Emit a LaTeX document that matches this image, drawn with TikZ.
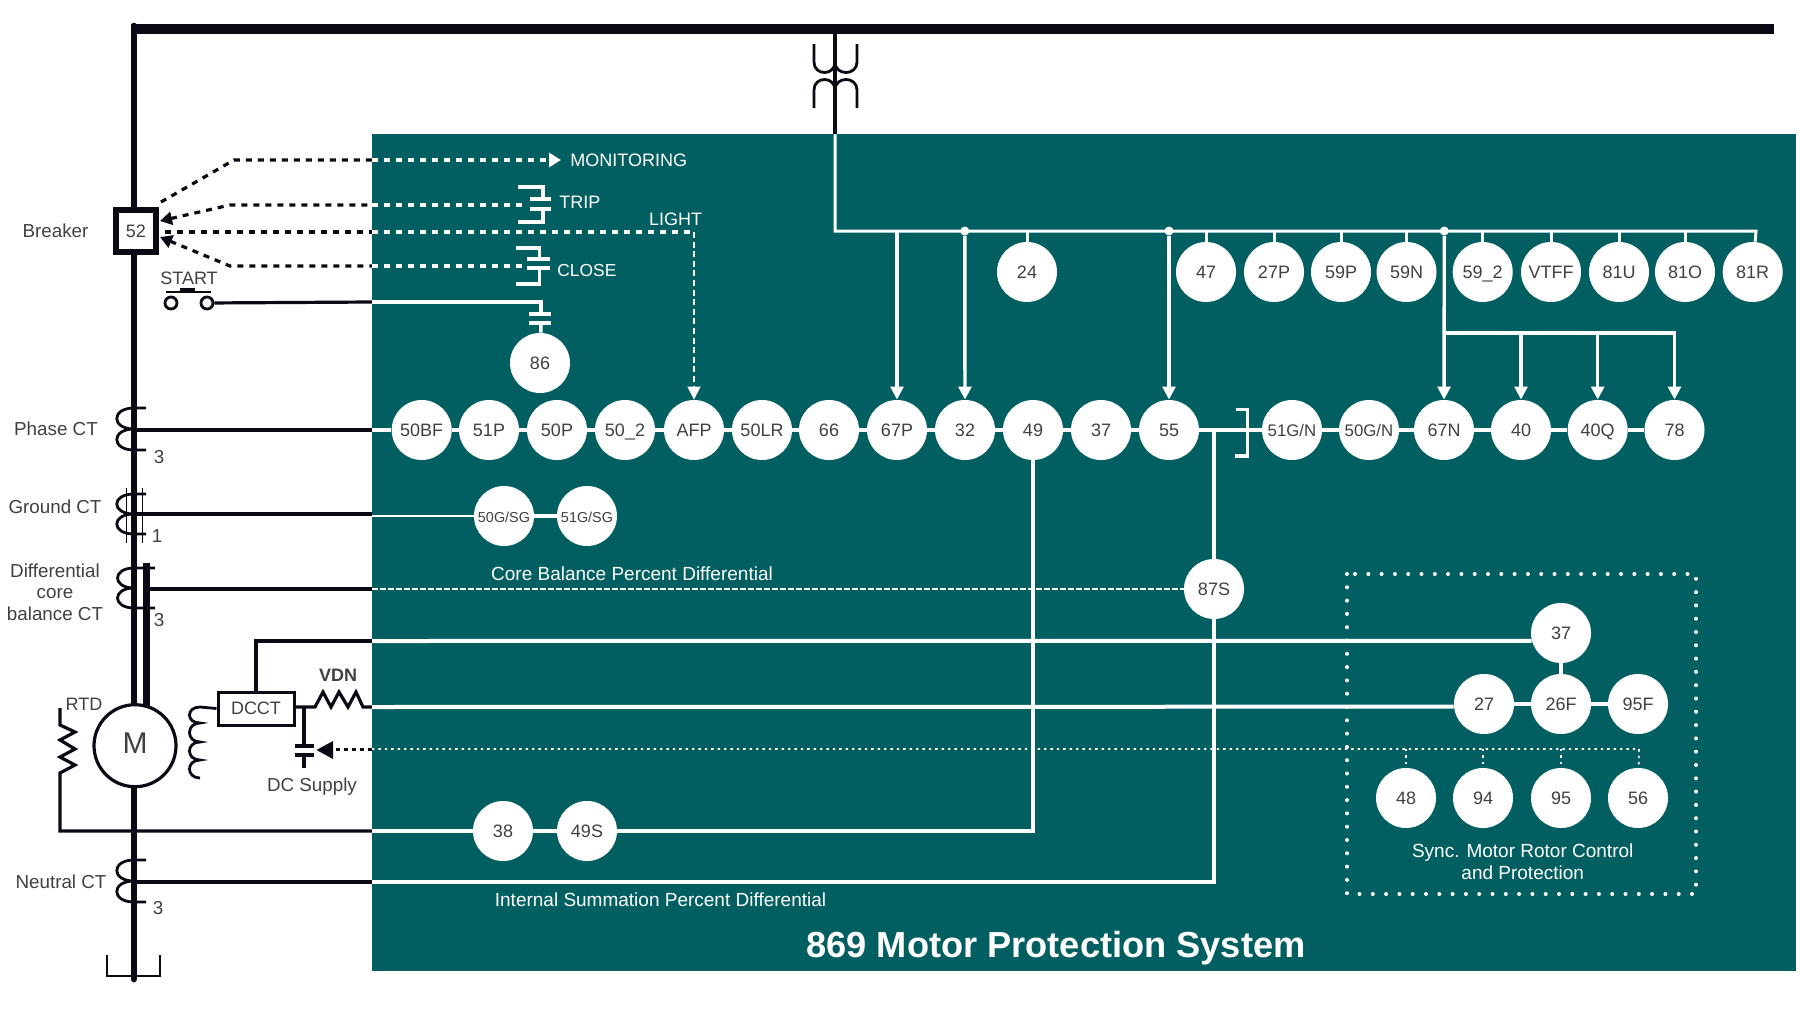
\documentclass[tikz,border=0pt]{standalone}
\usepackage{fontspec}
\setmainfont{Liberation Sans}
\usetikzlibrary{calc,arrows.meta}
\definecolor{panel}{HTML}{025F61}
\definecolor{ink}{HTML}{0A0A14}
\definecolor{words}{HTML}{404040}
\tikzset{
  relay/.style = {circle, fill = white, inner sep = 0pt, minimum size = 30pt, text = words, text height = 6.5pt, text depth = 0pt, font = \fontsize{9}{11}\selectfont},
  tinyrelay/.style = {relay, font = \fontsize{7.2}{9}\selectfont},
  midrelay/.style = {relay, font = \fontsize{8.4}{10}\selectfont},
  capstext/.style = {text = words, inner sep = 0pt, font = \fontsize{9}{11}\selectfont},
  darktext/.style = {text = words, inner sep = 0pt, font = \fontsize{9.4}{10.7}\selectfont, align = center},
  lighttext/.style = {text = white, inner sep = 0pt, font = \fontsize{9}{11}\selectfont},
  linetext/.style = {text = white, inner sep = 0pt, font = \fontsize{9.5}{10.9}\selectfont, align = center},
  blackwire/.style = {draw = ink, line width = 1.6pt},
  whitewire/.style = {draw = white, line width = 1.8pt},
  thinwire/.style = {draw = white, line width = 1.5pt},
  whitearrow/.style = {thinwire, line width = 1.7pt, -{Triangle[length = 6.5pt, width = 6.4pt]}},
  coil/.style = {draw = ink, line width = 1.4pt},
  blackdash/.style = {draw = ink, line width = 1.6pt, dash pattern = on 3pt off 3pt},
  whitedash/.style = {draw = white, line width = 1.6pt, dash pattern = on 3pt off 3pt},
  dotline/.style = {draw = white, line width = 0.8pt, dash pattern = on 1.2pt off 2pt},
  junction/.style = {circle, fill = white, inner sep = 0pt, minimum size = 4.5pt},
  contact/.style = {circle, draw = ink, fill = white, line width = 1.4pt, inner sep = 0pt, minimum size = 6pt},
  symbol/.style = {draw = white, line width = 1.7pt}
}
\begin{document}
\begin{tikzpicture}[x = 0.5pt, y = -0.5pt]
\useasboundingbox (0, 0) rectangle (1800, 1028);
%\draw[very thin, color = gray](0, 0) grid (1800, 1028);
\fill [panel] (372, 134) rectangle (1796, 971);
% busbar, motor and breaker
\draw [ink, line width = 4.6pt] (131, 29) -- (1774, 29);
\draw [ink, line width = 3.4pt, line cap = round] (134, 26) -- (134, 979);
\draw [ink, line width = 3.5pt] (146, 563) -- (146, 710);
\draw [coil] (107, 955) -- (107, 976) -- (160, 976) -- (160, 955);
\node (breaker) at (136, 231) [draw = ink, fill = white, line width = 2.8pt, minimum width = 20.2pt, minimum height = 21.2pt, inner sep = 0pt, text = words, font = \fontsize{9}{11}\selectfont] {52};
\node (motor) at (135, 745.7) [circle, draw = ink, fill = white, line width = 1.6pt, minimum size = 41pt, inner sep = 0pt, text = words, text depth = 3pt, font = \fontsize{15}{18}\selectfont] {M};
% voltage transformer
\coordinate (vttop) at (835, 29);
\coordinate (vtedge) at (835, 134);
\coordinate (busstart) at (835, 231);
\coordinate (busend) at (1756, 231);
\draw [blackwire] (vttop) -- (vtedge);
\draw [coil] (814, 44) -- (814, 62) .. controls (814, 76) and (835, 76) .. (835, 62) .. controls (835, 76) and (857, 76) .. (857, 62) -- (857, 44);
\draw [coil] (814, 108) -- (814, 90) .. controls (814, 76) and (835, 76) .. (835, 90) .. controls (835, 76) and (857, 76) .. (857, 90) -- (857, 108);
% upper row
\node (r24) at (1027, 272) [relay] {24};
\node (r47) at (1206, 272) [relay] {47};
\node (r27p) at (1274, 272) [relay] {27P};
\node (r59p) at (1341, 272) [relay] {59P};
\node (r59n) at (1406.5, 272) [relay] {59N};
\node (r59b) at (1482.7, 272) [relay] {59\_2};
\node (rvtff) at (1551, 272) [relay] {VTFF};
\node (r81u) at (1619, 272) [relay] {81U};
\node (r81o) at (1685, 272) [relay] {81O};
\node (r81r) at (1752.7, 272) [relay] {81R};
% main row
\node (r50bf) at (421.7, 430) [relay] {50BF};
\node (r51p) at (489, 430) [relay] {51P};
\node (r50p) at (557, 430) [relay] {50P};
\node (r50b) at (625, 430) [relay] {50\_2};
\node (rafp) at (694, 430) [relay] {AFP};
\node (r50lr) at (762, 430) [relay] {50LR};
\node (r66) at (829, 430) [relay] {66};
\node (r67p) at (897, 430) [relay] {67P};
\node (r32) at (965, 430) [relay] {32};
\node (r49) at (1033, 430) [relay] {49};
\node (r37) at (1101, 430) [relay] {37};
\node (r55) at (1169, 430) [relay] {55};
\node (r51gn) at (1292, 430) [midrelay] {51G/N};
\node (r50gn) at (1369, 430) [midrelay] {50G/N};
\node (r67n) at (1444, 430) [relay] {67N};
\node (r40) at (1521, 430) [relay] {40};
\node (r40q) at (1597.7, 430) [relay] {40Q};
\node (r78) at (1674.5, 430) [relay] {78};
% other relays
\node (r86) at (540, 363) [relay] {86};
\node (r50sg) at (504, 516) [tinyrelay] {50G/SG};
\node (r51sg) at (587, 516) [tinyrelay] {51G/SG};
\node (r87s) at (1214, 589) [relay] {87S};
\node (r38) at (503, 831) [relay] {38};
\node (r49s) at (587, 831) [relay] {49S};
\node (s37) at (1561, 633) [relay] {37};
\node (s27) at (1484, 704) [relay] {27};
\node (s26f) at (1561, 704) [relay] {26F};
\node (s95f) at (1638, 704) [relay] {95F};
\node (s48) at (1406, 798) [relay] {48};
\node (s94) at (1483, 798) [relay] {94};
\node (s95) at (1561, 798) [relay] {95};
\node (s56) at (1638, 798) [relay] {56};
% potential bus
\draw [thinwire] (vtedge) -- (busstart) -- (busend) -- (r81r);
\node (dota) at (964.8, 231) [junction] {};
\node (dotb) at (1169, 231) [junction] {};
\node (dotc) at (1444.3, 231) [junction] {};
\coordinate (branch) at (1444.3, 333);
\draw [thinwire] (busstart -| r24) -- (r24);
\draw [thinwire] (busstart -| r47) -- (r47);
\draw [thinwire] (busstart -| r27p) -- (r27p);
\draw [thinwire] (busstart -| r59p) -- (r59p);
\draw [thinwire] (busstart -| r59n) -- (r59n);
\draw [thinwire] (busstart -| r59b) -- (r59b);
\draw [thinwire] (busstart -| rvtff) -- (rvtff);
\draw [thinwire] (busstart -| r81u) -- (r81u);
\draw [thinwire] (busstart -| r81o) -- (r81o);
\draw [whitearrow] (busstart -| r67p) -- (r67p);
\draw [whitearrow] (dota) -- (r32);
\draw [whitearrow] (dotb) -- (r55);
\draw [whitearrow] (dotc) -- (r67n);
\draw [whitearrow] (branch) -| (r78);
\draw [whitearrow] (branch -| r40) -- (r40);
\draw [whitearrow] (branch -| r40q) -- (r40q);
% main row wiring
\coordinate (phasect) at (137, 430);
\coordinate (phaseedge) at (372, 430);
\draw [blackwire] (phasect) -- (phaseedge);
\draw [whitewire] (phaseedge) -- (r50bf) -- (r51p) -- (r50p) -- (r50b) -- (rafp) -- (r50lr) -- (r66) -- (r67p) -- (r32) -- (r49) -- (r37) -- (r55) -- (r51gn) -- (r50gn) -- (r67n) -- (r40) -- (r40q) -- (r78);
\draw [symbol] (1236, 409.5) -- (1247.5, 409.5) -- (1247.5, 456) -- (1235, 456);
% ground CT
\coordinate (groundct) at (137, 514);
\coordinate (groundedge) at (372, 514);
\coordinate (groundwhite) at (372, 516);
\draw [blackwire] (groundct) -- (groundedge);
\draw [white, line width = 0.8pt] (groundwhite) -- (r50sg);
\draw [whitewire] (r50sg) -- (r51sg);
% core balance
\coordinate (corect) at (146, 589);
\coordinate (coreedge) at (372, 589);
\draw [blackwire] (corect) -- (coreedge);
\draw [white, line width = 1pt, dash pattern = on 3pt off 1pt] (coreedge) -- (r87s);
% neutral and summation
\coordinate (neutralct) at (137, 882);
\coordinate (neutraledge) at (372, 882);
\coordinate (sumtap) at (1214, 430);
\draw [blackwire] (neutralct) -- (neutraledge);
\draw [whitewire] (neutraledge) -| (r87s);
\draw [whitewire] (r87s) -- (sumtap);
% RTD
\coordinate (rtdtop) at (60, 708);
\coordinate (rtdedge) at (372, 831);
\draw [blackwire] (rtdtop) -- (60, 725) -- (75, 732) -- (60, 740) -- (75, 749) -- (60, 757) -- (75, 765) -- (60, 773) -- (60, 831) -- (rtdedge);
\draw [whitewire] (rtdedge) -- (r38) -- (r49s);
\draw [whitewire] (r49) |- (r49s);
% DCCT
\node (dcct) at (256, 708.5) [draw = ink, fill = white, line width = 1.5pt, minimum width = 38pt, minimum height = 16.5pt, inner sep = 0pt, text = words, font = \fontsize{9}{11}\selectfont] {DCCT};
\coordinate (dcctedge) at (372, 641);
\coordinate (vdnedge) at (372, 707);
\coordinate (captop) at (304, 707);
\coordinate (capbot) at (304, 768);
\draw [blackwire] (dcct.north) |- (dcctedge);
\draw [blackwire] (dcct.east |- vdnedge) -- (315, 707) -- (323, 692) -- (331, 707) -- (339, 692) -- (348, 707) -- (356, 692) -- (363, 707) -- (vdnedge);
\draw [white, line width = 2pt] (dcctedge) -- (s37.195);
\draw [white, line width = 2pt] (vdnedge) -- (s27.185);
\draw [whitewire] (s27) -- (s26f) -- (s95f);
\draw [whitewire] (s37) -- (s26f);
\draw [coil] (dcct.west) -- (200, 707) .. controls (186, 707) and (186, 723) .. (200, 723) .. controls (186, 723) and (186, 742) .. (200, 742) .. controls (186, 742) and (186, 760) .. (200, 760) .. controls (186, 760) and (186, 778) .. (200, 778);
\draw [blackwire] (captop) -- (304, 746);
\draw [blackwire] (304, 755) -- (capbot);
\draw [ink, line width = 2pt] (295, 746) -- (314, 746);
\draw [ink, line width = 2pt] (295, 755) -- (314, 755);
% sync. motor dotted lines
\coordinate (dotedge) at (372, 749);
\coordinate (dotend) at (1639, 749);
\coordinate (dcarrow) at (316.5, 750);
\draw [ink, line width = 1.5pt, dash pattern = on 2pt off 2pt] (dotedge) -- (333, 749);
\fill [ink] (dcarrow) -- (333, 741) -- (333, 759) -- cycle;
\draw [dotline] (dotedge) -- (dotend) -- (s56);
\draw [dotline] (dotedge -| s48) -- (s48);
\draw [dotline] (dotedge -| s94) -- (s94);
\draw [dotline] (dotedge -| s95) -- (s95);
\draw [white, line width = 2pt, dash pattern = on 0pt off 6.65pt, line cap = round] (1347, 574) rectangle (1696, 894);
% breaker signals
\coordinate (monstart) at (161, 202);
\coordinate (monbend) at (234, 160);
\coordinate (monedge) at (372, 160);
\coordinate (monend) at (561, 160);
\coordinate (trippoint) at (160, 221);
\coordinate (tripbend) at (230, 205);
\coordinate (tripedge) at (372, 205);
\coordinate (tripend) at (523, 205);
\coordinate (lightstart) at (165, 232);
\coordinate (lightedge) at (372, 232);
\coordinate (lightcorner) at (694, 232);
\coordinate (closepoint) at (160, 237);
\coordinate (closebend) at (230, 266);
\coordinate (closeedge) at (372, 266);
\coordinate (closeend) at (527, 266);
\draw [blackdash] (monstart) -- (monbend) -- (monedge);
\draw [whitedash, -{Triangle[length = 6pt, width = 7pt]}] (monedge) -- (monend);
\draw [blackdash, {Triangle[length = 6pt, width = 6.5pt]}-] (trippoint) -- (tripbend) -- (tripedge);
\draw [whitedash] (tripedge) -- (tripend);
\draw [blackdash] (lightstart) -- (lightedge);
\draw [whitedash] (lightedge) -- (lightcorner);
\draw [white, line width = 1pt, dash pattern = on 3pt off 1.8pt, -{Triangle[length = 6.5pt, width = 6.4pt]}] (lightcorner) -- (rafp);
\draw [blackdash, {Triangle[length = 6pt, width = 6.5pt]}-] (closepoint) -- (closebend) -- (closeedge);
\draw [whitedash] (closeedge) -- (closeend);
\draw [symbol] (518, 187) -- (543, 187) -- (543, 199) (530, 199) -- (551, 199) (530, 209) -- (551, 209) (543, 209) -- (543, 222) -- (518, 222);
\draw [symbol] (516, 248) -- (539.5, 248) -- (539.5, 259) (527, 259) -- (550, 259) (527, 268) -- (550, 268) (539.5, 268) -- (539.5, 284) -- (516, 284);
% start button
\node (startl) at (171, 303) [contact] {};
\node (startr) at (207, 303) [contact] {};
\coordinate (startedge) at (372, 302);
\coordinate (startcorner) at (541, 302);
\draw [blackwire] (startr) -- (startedge);
\draw [whitewire] (startedge) -- (startcorner) -- (541, 314);
\draw [symbol] (529, 314) -- (551, 314);
\draw [symbol] (529, 323) -- (551, 323);
\draw [whitewire] (541, 323) -- (r86);
\draw [ink, line width = 1.3pt] (166, 292) -- (211, 292);
\draw [ink, line width = 1.6pt] (180, 290) -- (195, 290);
% current transformers
\draw [coil] (146, 408) -- (134, 408) .. controls (111, 408) and (111, 429) .. (134, 429) .. controls (111, 429) and (111, 450) .. (134, 450) -- (146, 450);
\draw [coil] (146, 494) -- (134, 494) .. controls (111, 494) and (111, 514) .. (134, 514) .. controls (111, 514) and (111, 534) .. (134, 534) -- (146, 534);
\draw [ink, line width = 0.5pt] (126, 488) -- (126, 543);
\draw [ink, line width = 0.5pt] (142, 488) -- (142, 543);
\draw [coil] (155, 568) -- (134, 568) .. controls (112, 568) and (112, 588) .. (134, 588) .. controls (112, 588) and (112, 608) .. (134, 608) -- (155, 608);
\draw [coil] (146, 860) -- (134, 860) .. controls (111, 860) and (111, 881) .. (134, 881) .. controls (111, 881) and (111, 902) .. (134, 902) -- (146, 902);
% texts
\node (tbreaker) at (55.5, 231) [darktext] {Breaker};
\node (tstart) at (189, 278) [capstext] {START};
\node (tphase) at (56, 429) [darktext] {Phase CT};
\node (tphasen) at (159, 457) [darktext] {3};
\node (tground) at (55, 507) [darktext] {Ground CT};
\node (tgroundn) at (157, 536) [darktext] {1};
\node (tcore) at (55, 592) [darktext] {Differential\\core\\balance CT};
\node (tcoren) at (159, 620) [darktext] {3};
\node (trtd) at (84, 704) [capstext] {RTD};
\node (tneutral) at (61, 882) [darktext] {Neutral CT};
\node (tneutraln) at (158, 908) [darktext] {3};
\node (tvdn) at (338, 675) [capstext, font = \fontsize{9}{11}\selectfont\bfseries] {VDN};
\node (tdc) at (312, 787) [darktext] {DC Supply};
\node (tmon) at (570, 160) [lighttext, anchor = west] {MONITORING};
\node (ttrip) at (559, 202) [lighttext, anchor = west] {TRIP};
\node (tlight) at (675.5, 219) [lighttext] {LIGHT};
\node (tclose) at (557, 271) [lighttext, anchor = west, font = \fontsize{8.7}{11}\selectfont] {CLOSE};
\node (tcb) at (632, 574) [linetext] {Core Balance Percent Differential};
\node (tis) at (660.5, 900) [linetext] {Internal Summation Percent Differential};
\node (tsync) at (1522.7, 862) [linetext] {Sync. Motor Rotor Control\\and Protection};
\node (ttitle) at (1056, 948.5) [lighttext, font = \fontsize{18.1}{22}\selectfont\bfseries] {869 Motor Protection System};
\end{tikzpicture}
\end{document}
